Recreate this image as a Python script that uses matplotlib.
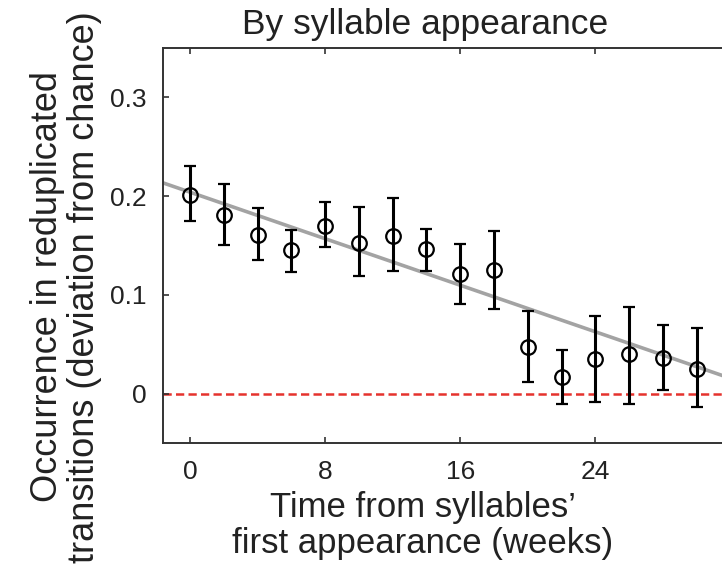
import matplotlib
matplotlib.use("Agg")
import matplotlib.pyplot as plt
import numpy as np

plt.rcParams["font.family"] = ["Liberation Sans", "DejaVu Sans"]

# data
weeks = [0, 2, 4, 6, 8, 10, 12, 14, 16, 18, 20, 22, 24, 26, 28, 30]
occurrence = [0.201, 0.181, 0.161, 0.145, 0.170, 0.153, 0.160, 0.146,
              0.121, 0.125, 0.047, 0.017, 0.035, 0.040, 0.036, 0.025]
upper = [0.231, 0.212, 0.188, 0.166, 0.194, 0.189, 0.198, 0.167,
         0.152, 0.165, 0.084, 0.044, 0.079, 0.088, 0.069, 0.066]
lower = [0.175, 0.150, 0.135, 0.123, 0.148, 0.119, 0.124, 0.124,
         0.091, 0.086, 0.012, -0.010, -0.008, -0.010, 0.004, -0.014]
fit_intercept = 0.204
fit_slope = -0.00589
x_ticks = [0, 8, 16, 24]
y_ticks = [0, 0.1, 0.2, 0.3]
y_ticklabels = ["0", "0.1", "0.2", "0.3"]

occ = np.array(occurrence)
yerr = [occ - np.array(lower), np.array(upper) - occ]

fig = plt.figure(figsize=(7.22, 5.70), dpi=100)
ax = fig.add_axes([0.2258, 0.2228, 0.7742, 0.6930])

xlim = (-1.6, 31.5)
ax.set_xlim(*xlim)
ax.set_ylim(-0.05, 0.35)

ax.axhline(0, color="#e5322d", linewidth=1.8, linestyle=(0, (3.3, 1.7)), zorder=1)

xs = np.array(xlim)
ax.plot(xs, fit_intercept + fit_slope * xs, color="#a3a3a3", linewidth=2.6, zorder=2)

ax.errorbar(weeks, occurrence, yerr=yerr, fmt="o", color="black",
            markerfacecolor="none", markeredgecolor="black", markersize=10.5,
            markeredgewidth=1.6, elinewidth=2.2, capsize=4.5, capthick=2.2,
            zorder=3)

ax.spines["right"].set_visible(False)
for s in ("left", "bottom", "top"):
    ax.spines[s].set_color("#333333")
    ax.spines[s].set_linewidth(1.4)

ax.set_xticks(x_ticks)
ax.set_yticks(y_ticks)
ax.set_yticklabels(y_ticklabels)
ax.tick_params(direction="in", length=4.5, width=1.2, color="#333333",
               labelsize=19, labelcolor="#222222", pad=12, top=True)

ax.set_xlabel("Time from syllables\u2019\nfirst appearance (weeks)",
              fontsize=25, color="#222222", linespacing=1.12)
ax.xaxis.set_label_coords((423 - 163) / 559, -0.122, transform=ax.transAxes)
ax.xaxis.label.set_va("top")

fig.text(425 / 722, 1 - 34 / 570, "By syllable appearance", ha="center",
         va="baseline", fontsize=25.5, color="#222222")

fig.text(66 / 722, 1 - 287 / 570,
         "Occurrence in reduplicated\ntransitions (deviation from chance)",
         rotation=90, ha="center", va="center", multialignment="center",
         fontsize=26, color="#222222", linespacing=1.08)

fig.savefig("out.png", dpi=100)
